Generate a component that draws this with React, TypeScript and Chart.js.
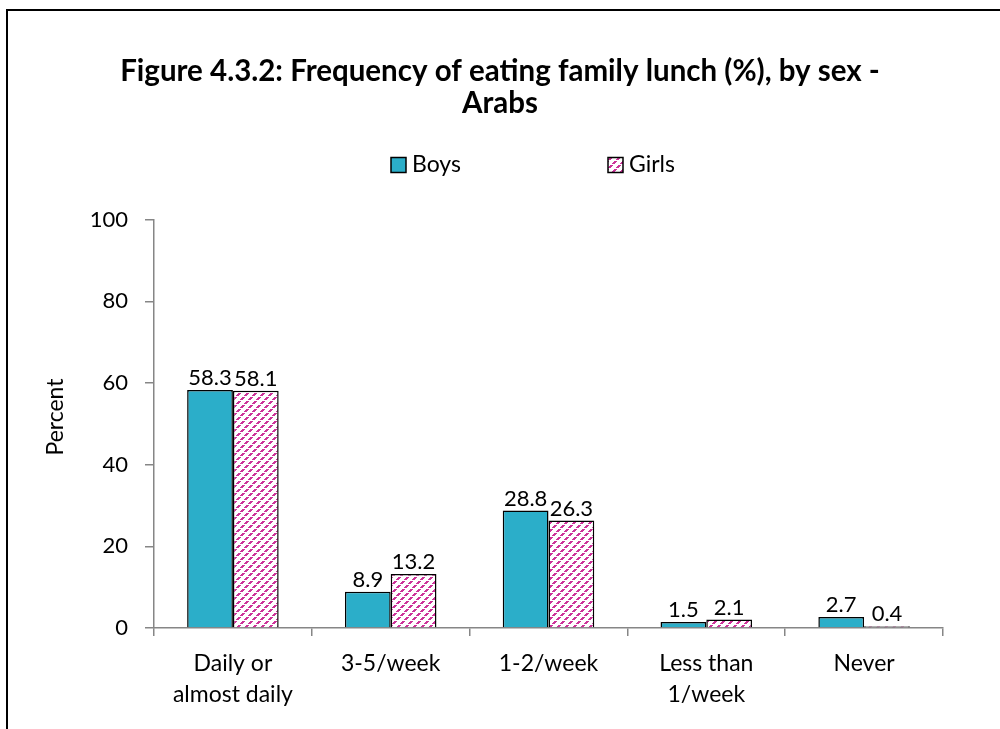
import React, { useEffect, useRef } from "react";
import { Chart, registerables } from "chart.js";

Chart.register(...registerables);

const titleLines = ["Figure 4.3.2: Frequency of eating family lunch (%), by sex -", "Arabs"];
const categories: (string | string[])[] = [
  ["Daily or", "almost daily"],
  "3-5/week",
  "1-2/week",
  ["Less than", "1/week"],
  "Never",
];
const seriesNames = ["Boys", "Girls"];
const boysValues = [58.3, 8.9, 28.8, 1.5, 2.7];
const girlsValues = [58.1, 13.2, 26.3, 2.1, 0.4];
const yAxisTitle = "Percent";
const yMin = 0;
const yMax = 100;
const yStep = 20;

const FONT = "Lato, 'Open Sans', sans-serif";
const BOYS_COLOR = "#2BAEC9";
const GIRLS_LINE = "#CC3399";
const AXIS_COLOR = "#868686";

function makePattern(): CanvasPattern | string {
  const c = document.createElement("canvas");
  const n = 8;
  c.width = n;
  c.height = n;
  const g = c.getContext("2d");
  if (!g) return "#fff";
  g.fillStyle = "#ffffff";
  g.fillRect(0, 0, n, n);
  g.fillStyle = GIRLS_LINE;
  for (let i = 0; i < n; i++) {
    if (i % 4 === 3) continue;
    const y = n - 1 - i;
    g.fillRect(i, y, 1, 1);
    g.fillRect((i + 1) % n, y, 1, 1);
    g.fillRect((i + 2) % n, y, 1, 1);
  }
  const p = g.createPattern(c, "repeat");
  return p || "#fff";
}

export default function App() {
  const canvasRef = useRef<HTMLCanvasElement | null>(null);

  useEffect(() => {
    const canvas = canvasRef.current;
    if (!canvas) return;
    const pattern = makePattern();

    const overlay = {
      id: "overlay",
      afterDatasetsDraw(chart: any) {
        const ctx = chart.ctx;
        ctx.save();
        ctx.fillStyle = "#000";
        ctx.font = `22px ${FONT}`;
        ctx.textAlign = "center";
        ctx.textBaseline = "bottom";
        chart.data.datasets.forEach((ds: any, di: number) => {
          const meta = chart.getDatasetMeta(di);
          meta.data.forEach((bar: any, i: number) => {
            const v = ds.data[i];
            ctx.fillText(v.toFixed(1), bar.x, bar.y - 1);
          });
        });
        ctx.restore();
      },
      afterDraw(chart: any) {
        const ctx = chart.ctx;
        ctx.save();
        // y-axis title
        ctx.fillStyle = "#000";
        ctx.font = `23px ${FONT}`;
        ctx.textAlign = "center";
        ctx.textBaseline = "middle";
        ctx.translate(56, 417);
        ctx.rotate(-Math.PI / 2);
        ctx.fillText(yAxisTitle, 0, 0);
        ctx.restore();

        // legend
        ctx.save();
        const legendY = 165;
        const items = [
          { x: 391, fill: BOYS_COLOR as any, text: seriesNames[0] },
          { x: 608, fill: pattern as any, text: seriesNames[1] },
        ];
        items.forEach((it) => {
          ctx.fillStyle = it.fill;
          ctx.fillRect(it.x, legendY - 7.5, 15, 15);
          ctx.strokeStyle = "#000";
          ctx.lineWidth = 1.5;
          ctx.strokeRect(it.x, legendY - 7.5, 15, 15);
          ctx.fillStyle = "#000";
          ctx.font = `23px ${FONT}`;
          ctx.textAlign = "left";
          ctx.textBaseline = "middle";
          ctx.fillText(it.text, it.x + 21, legendY);
        });
        ctx.restore();
      },
    };

    const chart = new Chart(canvas, {
      type: "bar",
      data: {
        labels: categories as any,
        datasets: [
          {
            label: seriesNames[0],
            data: boysValues,
            backgroundColor: BOYS_COLOR,
            borderColor: "#000",
            borderWidth: 1.5,
            borderSkipped: "bottom",
          },
          {
            label: seriesNames[1],
            data: girlsValues,
            backgroundColor: pattern as any,
            borderColor: "#000",
            borderWidth: 1.5,
            borderSkipped: "bottom",
          },
        ],
      },
      options: {
        animation: false,
        responsive: false,
        devicePixelRatio: 1,
        layout: { padding: { left: 0, right: 0, top: 0, bottom: 0 } },
        datasets: {
          bar: { categoryPercentage: 0.58, barPercentage: 1.0 },
        },
        plugins: {
          legend: { display: false },
          tooltip: { enabled: false },
          title: {
            display: true,
            text: titleLines,
            color: "#000",
            font: { family: FONT, size: 29.5, weight: "bold", lineHeight: 1.08 },
            padding: { top: 56, bottom: 100 },
          },
        },
        scales: {
          x: {
            grid: {
              display: true,
              drawOnChartArea: false,
              drawTicks: true,
              tickLength: 8,
              color: AXIS_COLOR,
              lineWidth: 1.5,
              offset: true,
            },
            border: { display: true, color: AXIS_COLOR, width: 1.5 },
            ticks: {
              color: "#000",
              font: { family: FONT, size: 23, lineHeight: 1.35 },
              padding: 12,
              maxRotation: 0,
              autoSkip: false,
            },
            afterFit(scale: any) {
              scale.height = 101;
            },
          },
          y: {
            min: yMin,
            max: yMax,
            grid: {
              display: true,
              drawOnChartArea: false,
              drawTicks: true,
              tickLength: 9,
              color: AXIS_COLOR,
              lineWidth: 1.5,
            },
            border: { display: true, color: AXIS_COLOR, width: 1.5 },
            ticks: {
              stepSize: yStep,
              color: "#000",
              font: { family: FONT, size: 22 },
              padding: 17,
            },
            afterFit(scale: any) {
              scale.width = 154;
            },
          },
          spacer: {
            type: "linear",
            position: "right",
            display: true,
            grid: { display: false, drawTicks: false },
            border: { display: false },
            ticks: { display: false },
            title: { display: false },
            afterFit(scale: any) {
              scale.width = 57;
            },
          },
        },
      },
      plugins: [overlay],
    });

    return () => chart.destroy();
  }, []);

  return (
    <div
      style={{
        position: "fixed",
        left: 0,
        top: 0,
        width: 1000,
        height: 729,
        overflow: "hidden",
        background: "#fff",
      }}
    >
      <canvas ref={canvasRef} width={1000} height={729} style={{ display: "block" }} />
      <div
        style={{
          position: "absolute",
          left: 6,
          top: 9,
          width: 1100,
          height: 900,
          borderLeft: "2px solid #000",
          borderTop: "2px solid #000",
          pointerEvents: "none",
        }}
      />
    </div>
  );
}
